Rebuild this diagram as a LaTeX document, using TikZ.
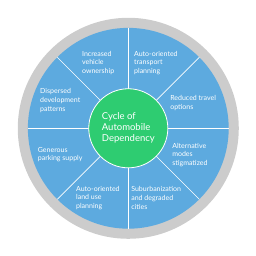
\documentclass[tikz,border=0pt]{standalone}
\usepackage{fontspec}
\setmainfont{Lato}
\usepackage{tikz}
\usetikzlibrary{positioning}

\definecolor{ringgray}{HTML}{CCCCCC}
\definecolor{wedgeblue}{HTML}{5DAADF}
\definecolor{hubgreen}{HTML}{2ECC71}

\begin{document}
\begin{tikzpicture}[
    ring/.style={circle, fill=ringgray, minimum size=7.77cm, inner sep=0pt, outer sep=0pt},
    disc/.style={circle, fill=wedgeblue, minimum size=7.06cm, inner sep=0pt, outer sep=0pt},
    hub/.style={circle, fill=hubgreen, draw=white, line width=0.8pt, minimum size=2.78cm, inner sep=0pt, outer sep=0pt},
    divider/.style={draw=white, line width=0.7pt},
    label/.style={text=white, anchor=west, align=left, inner sep=0pt, font=\fontsize{7}{8.6}\selectfont},
    title/.style={text=white, anchor=west, align=left, inner sep=0pt, font=\fontsize{9.5}{11}\selectfont}
]
\useasboundingbox (0,0) rectangle (9,9);

\node[ring] (ring) at (4.51, 4.49) {};
\node[disc] (disc) at (4.51, 4.49) {};
\foreach \a in {0,45,...,315}
    \draw[divider] (disc.center) -- (disc.\a);
\node[hub] (hub) at (4.51, 4.49) {};

% sector texts
\node[label] (owner) at (2.88, 6.785) {Increased\\vehicle\\ownership};
\node[label] (transport) at (4.71, 6.785) {Auto-oriented\\transport\\planning};
\node[label] (travel) at (5.98, 5.384) {Reduced travel\\options};
\node[label] (modes) at (6.05, 3.551) {Alternative\\modes\\stigmatized};
\node[label] (suburb) at (4.61, 2.039) {Suburbanization\\and degraded\\cities};
\node[label] (landuse) at (2.67, 2.039) {Auto-oriented\\land use\\planning};
\node[label] (parking) at (1.325, 3.568) {Generous\\parking supply};
\node[label] (sprawl) at (1.406, 5.467) {Dispersed\\development\\patterns};

\node[title] (cycle) at (3.575, 4.518) {Cycle of\\Automobile\\Dependency};
\end{tikzpicture}
\end{document}
